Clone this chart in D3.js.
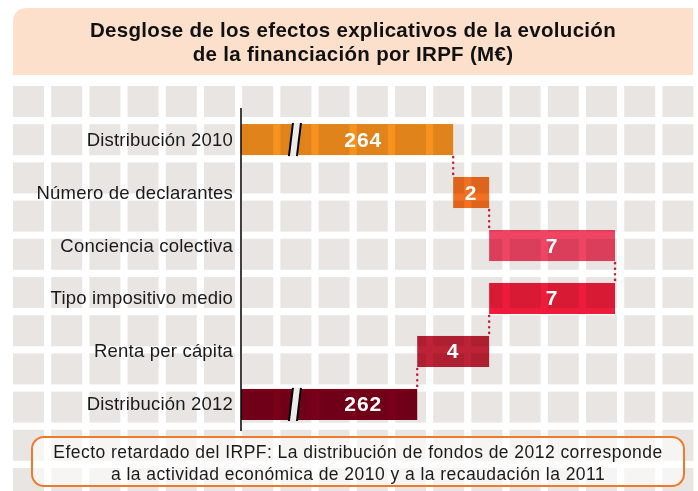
<!DOCTYPE html>
<html>
<head>
<meta charset="utf-8">
<script src="https://cdn.jsdelivr.net/npm/d3@7"></script>
<style>
  body { margin: 0; background: #fff; }
  svg { display: block; font-family: "Liberation Sans", Arial, sans-serif; }
  .bar { mix-blend-mode: multiply; }
</style>
</head>
<body>
<svg width="698" height="491"></svg>
<script>
// data
const categories = ['Distribución 2010', 'Número de declarantes', 'Conciencia colectiva',
                    'Tipo impositivo medio', 'Renta per cápita', 'Distribución 2012'];
const values = [264, 2, 7, -7, -4, 262];
const isTotal = [true, false, false, false, false, true];
const valueLabels = ['264', '2', '7', '7', '4', '262'];
const barColors = ['#f7921e', '#f36f21', '#ef4565', '#ee1c3a', '#be2237', '#7a0019'];
const titleLines = ['Desglose de los efectos explicativos de la evolución',
                    'de la financiación por IRPF (M€)'];
const noteLines = ['Efecto retardado del IRPF: La distribución de fondos de 2012 corresponde',
                   'a la actividad económica de 2010 y a la recaudación la 2011'];

const svg = d3.select('svg');
const width = +svg.attr('width');
const height = +svg.attr('height');

// background squares
const cell = 38.2, sq = 31;
const bg = svg.append('g');
for (let cx = 13; cx < width; cx += cell) {
  for (let cy = 86; cy < height; cy += cell) {
    bg.append('rect')
      .attr('x', cx).attr('y', cy)
      .attr('width', sq).attr('height', sq)
      .attr('fill', '#e9e5e2');
  }
}

// title box, only top-left corner rounded
const tx0 = 13, tx1 = 693, ty0 = 8, ty1 = 75, r = 15;
svg.append('path')
  .attr('d', `M${tx0},${ty1} L${tx0},${ty0 + r} Q${tx0},${ty0} ${tx0 + r},${ty0} L${tx1},${ty0} L${tx1},${ty1} Z`)
  .attr('fill', '#fde0cb');
svg.append('text')
  .attr('text-anchor', 'middle')
  .attr('font-weight', 'bold')
  .attr('font-size', 20.5)
  .attr('letter-spacing', 0.3)
  .attr('fill', '#111')
  .selectAll('tspan').data(titleLines).enter().append('tspan')
    .attr('x', (tx0 + tx1) / 2)
    .attr('y', (d, i) => 37 + i * 24)
    .text(d => d);

// waterfall running totals
let run = 0;
const rows = categories.map((c, i) => {
  let start, end;
  if (isTotal[i]) { start = 0; end = values[i]; }
  else { start = run; end = run + values[i]; }
  run = end;
  return { cat: c, start, end, lo: Math.min(start, end), hi: Math.max(start, end),
           total: isTotal[i], label: valueLabels[i], color: barColors[i] };
});

const axisValue = 252.2;   // where the broken axis starts
const breakAt = 255.2;     // position of the break mark
const totalLabelAt = 259;  // where the totals' numbers sit

const x = d3.scaleLinear().domain([axisValue, 273]).range([241, 615]);
const y = d3.scaleBand().domain(categories).range([124, 420]).paddingInner(0.414).paddingOuter(0);

const chart = svg.append('g');

chart.selectAll('.bar').data(rows)
  .enter().append('rect')
    .attr('class', 'bar')
    .attr('x', d => x(Math.max(d.lo, axisValue)))
    .attr('y', d => y(d.cat))
    .attr('width', d => x(d.hi) - x(Math.max(d.lo, axisValue)))
    .attr('height', y.bandwidth())
    .attr('fill', d => d.color);

// break marks on the totals
const bw = 4, sl = 2;
rows.filter(d => d.total).forEach(d => {
  const bx = x(breakAt), top = y(d.cat) - 1, bot = y(d.cat) + y.bandwidth() + 1;
  chart.append('path')
    .attr('d', `M${bx - bw + sl},${top} L${bx + bw + sl},${top} L${bx + bw - sl},${bot} L${bx - bw - sl},${bot} Z`)
    .attr('fill', '#eeecea');
  [-bw, bw].forEach(o => {
    chart.append('line')
      .attr('x1', bx + o + sl).attr('y1', top)
      .attr('x2', bx + o - sl).attr('y2', bot)
      .attr('stroke', '#000').attr('stroke-width', 2);
  });
});

// dotted connectors
for (let i = 0; i < rows.length - 1; i++) {
  const cx = x(rows[i].end);
  chart.append('line')
    .attr('x1', cx).attr('x2', cx)
    .attr('y1', y(rows[i].cat) + y.bandwidth() + 2)
    .attr('y2', y(rows[i + 1].cat) - 1)
    .attr('stroke', '#c41e3a')
    .attr('stroke-width', 2.5)
    .attr('stroke-linecap', 'round')
    .attr('stroke-dasharray', '0.1 5.5');
}

// vertical axis
svg.append('line')
  .attr('x1', x(axisValue)).attr('x2', x(axisValue))
  .attr('y1', 108).attr('y2', 431)
  .attr('stroke', '#000').attr('stroke-width', 1.5);

// category labels
chart.selectAll('.cat').data(rows)
  .enter().append('text')
    .attr('class', 'cat')
    .attr('x', x(axisValue) - 8)
    .attr('y', d => y(d.cat) + y.bandwidth() / 2 + 6)
    .attr('text-anchor', 'end')
    .attr('font-size', 18.5)
    .attr('letter-spacing', 0.2)
    .attr('fill', '#1a1a1a')
    .text(d => d.cat);

// value labels
chart.selectAll('.val').data(rows)
  .enter().append('text')
    .attr('class', 'val')
    .attr('x', d => d.total ? x(totalLabelAt) : (x(d.lo) + x(d.hi)) / 2)
    .attr('y', d => y(d.cat) + y.bandwidth() / 2 + 7)
    .attr('text-anchor', 'middle')
    .attr('font-weight', 'bold')
    .attr('font-size', 21)
    .attr('letter-spacing', 1)
    .attr('fill', '#fff')
    .text(d => d.label);

// note box
const nx0 = 32, nx1 = 684, ny0 = 437, ny1 = 486;
svg.append('rect')
  .attr('x', nx0).attr('y', ny0)
  .attr('width', nx1 - nx0).attr('height', ny1 - ny0)
  .attr('rx', 12)
  .attr('fill', '#fff').attr('fill-opacity', 0.6)
  .attr('stroke', '#f07a2a').attr('stroke-width', 2);
svg.append('text')
  .attr('text-anchor', 'middle')
  .attr('font-size', 17.5)
  .attr('letter-spacing', 0.45)
  .attr('fill', '#1a1a1a')
  .selectAll('tspan').data(noteLines).enter().append('tspan')
    .attr('x', (nx0 + nx1) / 2)
    .attr('y', (d, i) => 458 + i * 22)
    .text(d => d);
</script>
</body>
</html>
